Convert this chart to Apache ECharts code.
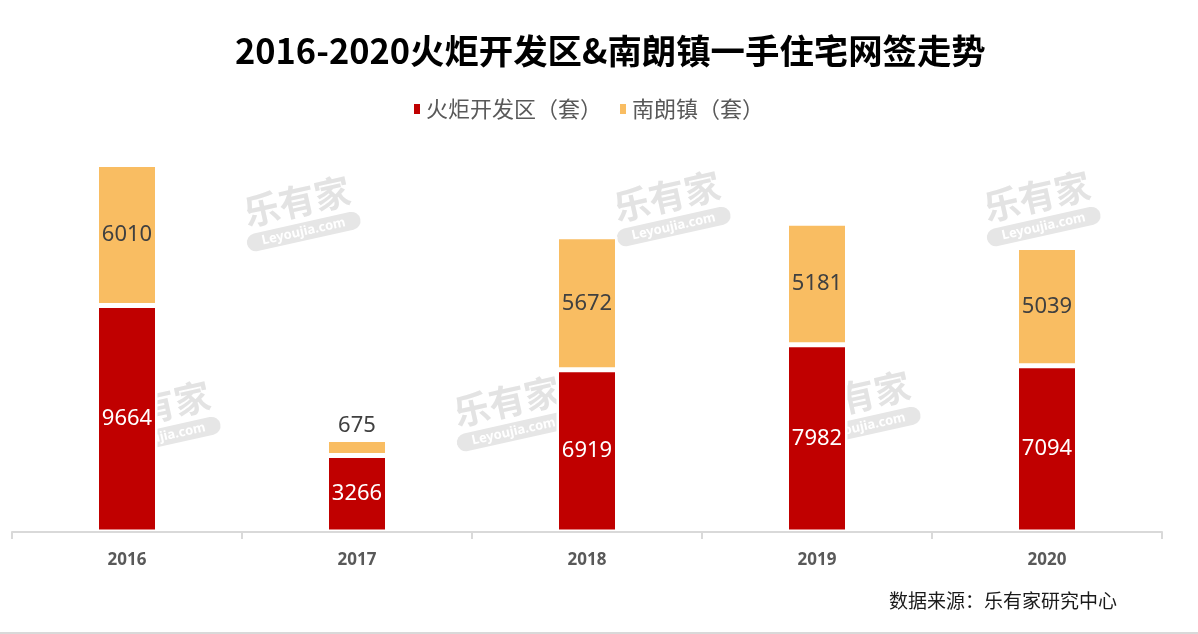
<!DOCTYPE html>
<html><head><meta charset="utf-8">
<script src="https://cdn.jsdelivr.net/npm/echarts@6/dist/echarts.min.js"></script>
<style>html,body{margin:0;padding:0;background:#fff}#c{width:1198px;height:634px}</style>
</head><body><div id="c"></div>
<script>
const categories = ['2016', '2017', '2018', '2019', '2020'];
const huojuValues = [9664, 3266, 6919, 7982, 7094];
const nanlangValues = [6010, 675, 5672, 5181, 5039];
const seriesNames = ['火炬开发区（套）', '南朗镇（套）'];
const titleText = '2016-2020火炬开发区&南朗镇一手住宅网签走势';
const sourceText = '数据来源：乐有家研究中心';
const watermarkSpots = [[300,215],[670,210],[1040,210],[160,420],[510,415],[860,410]];

const chart = echarts.init(document.getElementById('c'));
const wm = watermarkSpots.map(p => ({
  type: 'group', x: p[0], y: p[1], rotation: 0.22, z: 1,
  children: [
    {type: 'text', style: {text: '乐有家', x: 0, y: -14, align: 'center', verticalAlign: 'middle',
      font: 'bold 36px "Noto Sans CJK SC"', fill: '#e3e3e3'}},
    {type: 'rect', shape: {x: -58, y: 8, width: 116, height: 18, r: 9}, style: {fill: '#e6e6e6'}},
    {type: 'text', style: {text: 'Leyoujia.com', x: 0, y: 17, align: 'center', verticalAlign: 'middle',
      font: 'bold 13px "Noto Sans"', fill: '#ffffff'}}
  ]
}));

chart.setOption({
  animation: false,
  backgroundColor: '#ffffff',
  title: {
    text: titleText, left: 230, top: 29,
    textStyle: {fontFamily: '"Noto Sans CJK SC"', fontWeight: 'bold', fontSize: 34.4, color: '#000000'}
  },
  legend: {
    data: seriesNames, left: 407, top: 93, itemWidth: 8, itemHeight: 12, itemGap: 16,
    icon: 'rect',
    textStyle: {fontFamily: '"Noto Sans CJK SC"', fontSize: 22, color: '#595959'}
  },
  grid: {left: 12, right: 36, top: 156.8, bottom: 102, containLabel: false},
  xAxis: {
    type: 'category', data: categories, z: 10,
    axisLine: {lineStyle: {color: '#d9d9d9', width: 2}},
    axisTick: {show: true, length: 7, lineStyle: {color: '#d9d9d9', width: 2}},
    axisLabel: {margin: 20, fontFamily: '"Noto Sans"', fontWeight: 'bold', fontSize: 17, color: '#595959'}
  },
  yAxis: {type: 'value', min: 0, max: 16000, show: false, splitLine: {show: false}},
  series: [
    {
      name: seriesNames[0], type: 'bar', stack: 'total', barWidth: 61,
      itemStyle: {color: '#C00000', borderColor: '#ffffff', borderWidth: 2.5},
      label: {show: true, position: 'inside', fontFamily: '"Noto Sans"', fontSize: 22, color: '#ffffff'},
      data: huojuValues
    },
    {
      name: seriesNames[1], type: 'bar', stack: 'total', barWidth: 61,
      itemStyle: {color: '#F9BD62', borderColor: '#ffffff', borderWidth: 2.5},
      label: {show: true, position: 'inside', fontFamily: '"Noto Sans"', fontSize: 22, color: '#404040'},
      data: nanlangValues.map((v, i) => i === 1 ? {value: v, label: {position: 'top', distance: 3}} : v)
    }
  ],
  graphic: wm.concat([
    {type: 'text', right: 81, top: 591, z: 20,
      style: {text: sourceText, font: '19px "Noto Sans CJK SC"', fill: '#1a1a1a'}},
    {type: 'rect', shape: {x: 0, y: 632, width: 1198, height: 2}, style: {fill: '#d9d9d9'}, z: 20}
  ])
});
</script></body></html>
